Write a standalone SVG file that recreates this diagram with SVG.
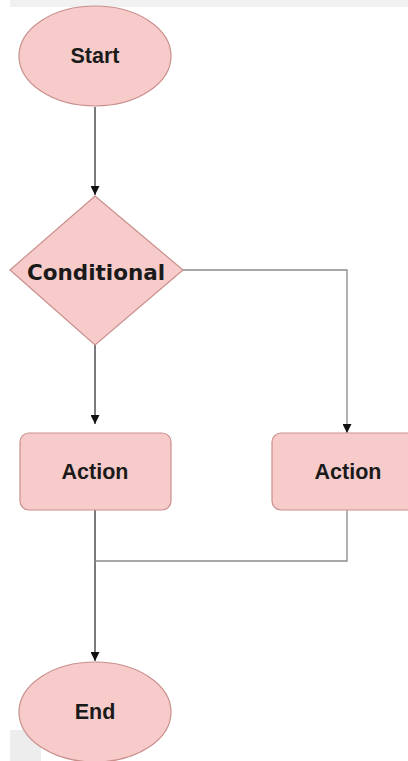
<svg xmlns="http://www.w3.org/2000/svg" width="408" height="761" viewBox="0 0 408 761">
  <defs>
    <style>
      .shape { fill: #f6cbca; stroke: #c98f8c; stroke-width: 1.2; }
      .lbl { font-family: "Liberation Sans", Arial, sans-serif; font-weight: bold; font-size: 21.5px; fill: #1a1a1a; text-anchor: middle; dominant-baseline: central; }
      .lbl2 { font-family: "DejaVu Sans", Verdana, sans-serif; font-weight: bold; font-size: 21.5px; fill: #1a1a1a; text-anchor: middle; dominant-baseline: central; }
      .edge { fill: none; stroke: #333; stroke-width: 1.3; }
      .edge2 { fill: none; stroke: #8a8a8a; stroke-width: 1.3; }
    </style>
    <marker id="arr" viewBox="0 0 10 10" refX="10" refY="5" markerWidth="9" markerHeight="9" markerUnits="userSpaceOnUse" orient="auto">
      <path d="M0,0 L10,5 L0,10 z" fill="#111"/>
    </marker>
  </defs>
  <rect x="0" y="0" width="408" height="761" fill="#ffffff"/>
  <rect x="10" y="0" width="398" height="7" fill="#f1f1f1"/>
  <rect x="10" y="730" width="31" height="31" fill="#ededed"/>

  <g id="connectors">
    <path class="edge" d="M95,107 L95,195" marker-end="url(#arr)"/>
    <path class="edge" d="M95,345 L95,424" marker-end="url(#arr)"/>
    <path class="edge2" d="M183,270 L347,270 L347,433" marker-end="url(#arr)"/>
    <path class="edge" d="M95,510 L95,661" marker-end="url(#arr)"/>
    <path class="edge2" d="M347,510 L347,561 L95,561"/>
  </g>

  <g id="start">
    <ellipse class="shape" cx="95" cy="56" rx="76" ry="50"/>
    <text class="lbl" x="95" y="56">Start</text>
  </g>
  <g id="conditional">
    <polygon class="shape" points="95,196 183,270 95,345 10,270"/>
    <text class="lbl2" x="96" y="272">Conditional</text>
  </g>
  <g id="action1">
    <rect class="shape" x="20" y="433" width="151" height="77" rx="9"/>
    <text class="lbl" x="95" y="472">Action</text>
  </g>
  <g id="action2">
    <rect class="shape" x="272" y="433" width="150" height="77" rx="9"/>
    <text class="lbl" x="348" y="472">Action</text>
  </g>
  <g id="end">
    <ellipse class="shape" cx="95" cy="712" rx="76" ry="50"/>
    <text class="lbl" x="95" y="712">End</text>
  </g>
</svg>
